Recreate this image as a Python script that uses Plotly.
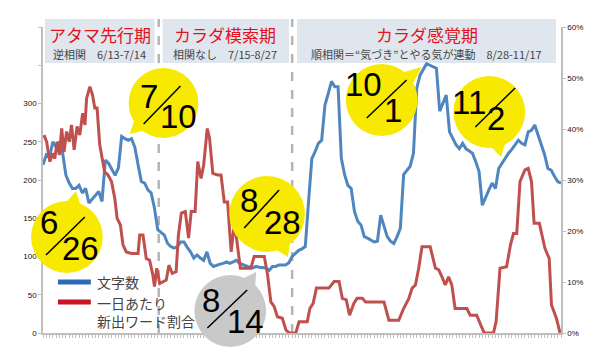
import math
import plotly.graph_objects as go

# ---------------- data ----------------
# day offset from 6/13 (0) to 11/17 (158)
blue_day = list(range(0, 159))
blue_chars = [220, 233, 230, 250, 243, 250, 235, 206, 196, 189, 189, 193, 183, 189, 170, 175, 180, 185, 172, 226,
              222, 213, 206, 216, 257, 254, 252, 254, 243, 220, 198, 196, 187, 183, 163, 135, 132, 128, 117, 113,
              111, 113, 119, 119, 112, 106, 98, 102, 98, 95, 106, 91, 87, 89, 90, 91, 93, 91, 93, 95,
              91, 89, 87, 86, 85, 87, 86, 85, 85, 82, 87, 87, 89, 89, 89, 92, 100, 104, 108, 110,
              113, 172, 228, 237, 248, 252, 298, 313, 329, 322, 322, 228, 207, 193, 189, 159, 146, 141, 126, 124,
              122, 119, 120, 154, 140, 126, 120, 117, 126, 137, 207, 213, 218, 235, 320, 337, 345, 352, 350, 348,
              346, 290, 300, 311, 263, 255, 246, 241, 248, 241, 238, 235, 224, 211, 167, 178, 187, 196, 189, 215,
              222, 228, 235, 240, 246, 252, 248, 246, 263, 265, 272, 259, 245, 233, 215, 213, 205, 198, 196]

red_day = [0.3, 1.1, 2.1, 2.9, 3.6, 4.3, 5.0, 5.7, 6.4, 7.2, 8.0, 8.7, 9.5, 10.4, 11.2, 12.1, 12.8, 13.3, 14.3, 15.1,
           15.8, 16.5, 17.3, 18.1, 18.8, 19.8, 20.9, 21.9, 22.6, 23.6, 24.4, 25.4, 27.0, 29.0, 29.5, 30.5, 31.5, 32.5,
           33.5, 34.0, 34.7, 35.6, 36.6, 37.6, 38.4, 39.4, 40.6, 41.3, 42.2, 43.4, 44.4, 45.2, 46.4, 47.2, 48.2, 49.0,
           50.1, 50.8, 51.8, 53.3, 54.3, 55.3, 56.3, 57.4, 58.4, 59.4, 60.2, 63.4, 64.4, 67.5, 68.5, 69.5, 70.5, 71.5,
           73.0, 74.1, 75.1, 77.1, 78.1, 80.6, 81.4, 82.4, 83.4, 87.2, 88.8, 90.3, 91.3, 92.5, 93.5, 94.8, 95.8, 97.4,
           98.4, 104.0, 105.5, 108.5, 110.0, 111.6, 112.6, 113.6, 114.6, 115.6, 118.1, 119.7, 120.7, 121.7, 122.7,
           123.7, 124.7, 125.7, 129.3, 130.3, 132.3, 133.5, 134.6, 137.4, 138.2, 139.4, 141.4, 142.6, 143.5, 144.5,
           145.5, 147.0, 148.0, 149.0, 149.8, 151.4, 153.1, 154.4, 155.1, 156.6, 157.7]
red_pct = [38.8, 37.5, 33.6, 35.2, 34.2, 37.5, 34.9, 40.1, 35.5, 39.5, 37.5, 40.8, 35.9, 40.5, 38.8, 43.1, 40.8, 46.0,
           48.3, 46.7, 44.1, 44.1, 36.9, 33.6, 31.6, 31.0, 29.7, 26.4, 22.5, 21.2, 17.3, 15.9, 15.6, 15.6, 19.2, 19.2,
           14.6, 14.3, 11.4, 9.1, 12.7, 9.7, 10.1, 10.4, 13.3, 11.7, 12.0, 19.2, 23.5, 23.8, 18.6, 23.8, 23.8, 33.6,
           30.3, 32.9, 40.1, 38.2, 31.3, 31.0, 31.0, 25.7, 25.7, 15.9, 21.8, 16.6, 12.7, 12.7, 15.0, 15.0, 11.4, 6.1,
           5.2, 3.2, 2.9, 0.6, 0.0, 0.0, 2.2, 2.2, 4.8, 5.8, 8.8, 8.8, 10.1, 10.1, 6.8, 6.5, 3.5, 5.8, 6.8, 6.8,
           6.1, 6.1, 2.5, 2.5, 4.8, 6.8, 8.8, 9.4, 12.7, 16.9, 16.9, 12.7, 12.4, 11.0, 9.4, 11.0, 9.4, 4.8, 4.8,
           3.5, 3.5, 1.6, 0.0, 0.0, 2.2, 12.7, 13.0, 17.3, 19.5, 19.5, 29.7, 32.0, 32.3, 29.7, 21.5, 21.5, 16.6,
           14.6, 5.5, 2.9, 0.0]

left_ticks = [0, 50, 100, 150, 200, 250, 300, 350, 400]
left_labels = ["0", "50", "100", "150", "200", "250", "300", "", ""]
right_ticks = [0, 10, 20, 30, 40, 50, 60]
right_labels = ["0%", "10%", "20%", "30%", "40%", "50%", "60%"]

phase_bounds = [35.3, 76.0]
phase_titles = ["アタマ先行期", "カラダ模索期", "カラダ感覚期"]
phase_subs = ["逆相関　6/13-7/14", "相関なし　7/15-8/27", "順相関＝“気づき”とやる気が連動　8/28-11/17"]

legend_names = ["文字数", "一日あたり<br>新出ワード割合"]

# callouts: numerator, denominator
callout_num = ["7", "6", "8", "8", "10", "11"]
callout_den = ["10", "26", "28", "14", "1", "2"]

# ---------------- layout helpers (pixel -> paper) ----------------
W, H = 595, 355
L, R, T, B = 43, 563, 27, 333


def px(x):
    return (x - L) / (R - L)


def py(y):
    return (B - y) / (B - T)


BLUE = "#4f86c0"
RED = "#c0504d"
YEL = "#f7e900"
GRAY = "#c9c9c9"
CJK = "Noto Sans CJK JP"
LAT = "Liberation Sans, Arial, sans-serif"

fig = go.Figure()
fig.add_trace(go.Scatter(x=red_day, y=red_pct, mode="lines", yaxis="y2",
                         line=dict(color=RED, width=3), name=legend_names[1]))
fig.add_trace(go.Scatter(x=blue_day, y=blue_chars, mode="lines", yaxis="y",
                         line=dict(color=BLUE, width=3), name=legend_names[0]))

shapes = []
annotations = []

# header boxes
boxes = [(45, 155), (163, 290), (298, 558)]
centers = [100, 226, 428]
for (x0, x1), cx, t, s in zip(boxes, centers, phase_titles, phase_subs):
    shapes.append(dict(type="rect", xref="paper", yref="paper", x0=px(x0), x1=px(x1), y0=py(63), y1=py(19),
                       fillcolor="#dfe6ee", line=dict(width=0), layer="below"))
    annotations.append(dict(xref="paper", yref="paper", x=px(cx), y=py(34), text=t, showarrow=False,
                            xanchor="center", yanchor="middle",
                            font=dict(family=CJK, size=17, color="#e3121c")))
    annotations.append(dict(xref="paper", yref="paper", x=px(cx), y=py(53.5), text=s, showarrow=False,
                            xanchor="center", yanchor="middle",
                            font=dict(family=CJK, size=11, color="#444444")))

# dashed phase separators
for b in phase_bounds:
    shapes.append(dict(type="line", xref="x", yref="paper", x0=b, x1=b, y0=0, y1=py(19),
                       line=dict(color="#b5b5b5", width=2.5, dash="dash"), layer="below"))

# callout bubbles
bubbles = [
    # cx, cy, r, tip, color, num pos, den pos, slash
    (164, 103, 35, (130, 134), YEL, (149, 97), (179, 117), ((144, 124), (181, 86))),
    (67, 237, 36, (76, 191), YEL, (49, 223), (81, 248), ((46, 255), (85, 217))),
    (268, 214, 38, (289, 257), YEL, (250, 200), (283, 222), ((245, 228), (280, 190))),
    (231, 311, 36, (257, 272), GRAY, (212, 300), (246, 321), ((208, 328), (248, 290))),
    (383, 100, 36, (423, 67), YEL, (365, 84), (394, 110), ((368, 118), (408, 80))),
    (491, 112, 36, (503, 157), YEL, (471, 102), (498, 118), ((477, 127), (517, 88))),
]
for (cx, cy, r, tip, col, npos, dpos, sl), num, den in zip(bubbles, callout_num, callout_den):
    ang = math.atan2(tip[1] - cy, tip[0] - cx)
    pts = []
    for da in (-0.28, 0.28):
        pts.append((cx + 0.9 * r * math.cos(ang + da), cy + 0.9 * r * math.sin(ang + da)))
    path = "M {:.4f},{:.4f} L {:.4f},{:.4f} L {:.4f},{:.4f} Z".format(
        px(pts[0][0]), py(pts[0][1]), px(tip[0]), py(tip[1]), px(pts[1][0]), py(pts[1][1]))
    shapes.append(dict(type="path", xref="paper", yref="paper", path=path, fillcolor=col,
                       line=dict(width=0), layer="above"))
    shapes.append(dict(type="circle", xref="paper", yref="paper", x0=px(cx - r), x1=px(cx + r),
                       y0=py(cy + r), y1=py(cy - r), fillcolor=col, line=dict(width=0), layer="above"))
    shapes.append(dict(type="line", xref="paper", yref="paper", x0=px(sl[0][0]), y0=py(sl[0][1]),
                       x1=px(sl[1][0]), y1=py(sl[1][1]), line=dict(color="black", width=1.5), layer="above"))
    annotations.append(dict(xref="paper", yref="paper", x=px(npos[0]), y=py(npos[1]), text=num,
                            showarrow=False, xanchor="center", yanchor="middle",
                            font=dict(family=LAT, size=33, color="black")))
    annotations.append(dict(xref="paper", yref="paper", x=px(dpos[0]), y=py(dpos[1]), text=den,
                            showarrow=False, xanchor="center", yanchor="middle",
                            font=dict(family=LAT, size=33, color="black")))

# custom legend
shapes.append(dict(type="line", xref="paper", yref="paper", x0=px(58), x1=px(91), y0=py(282), y1=py(282),
                   line=dict(color="#2b6cb4", width=5), layer="above"))
shapes.append(dict(type="line", xref="paper", yref="paper", x0=px(58), x1=px(91), y0=py(302), y1=py(302),
                   line=dict(color="#cc1424", width=5), layer="above"))
annotations.append(dict(xref="paper", yref="paper", x=px(95), y=py(282), text=legend_names[0], showarrow=False,
                        xanchor="left", yanchor="middle", font=dict(family=CJK, size=14, color="#444444")))
annotations.append(dict(xref="paper", yref="paper", x=px(95), y=py(312), text=legend_names[1], showarrow=False,
                        xanchor="left", yanchor="middle", align="left",
                        font=dict(family=CJK, size=14, color="#444444")))

fig.update_layout(
    width=W, height=H,
    margin=dict(l=L, r=W - R, t=T, b=H - B, pad=0),
    paper_bgcolor="white", plot_bgcolor="white",
    showlegend=False,
    hovermode=False,
    shapes=shapes,
    annotations=annotations,
    xaxis=dict(range=[0, 158], showgrid=False, zeroline=False, showline=True, linecolor="#bfbfbf",
               linewidth=1.5, ticks="outside", ticklen=3, tickcolor="#bfbfbf", dtick=1, tick0=0,
               showticklabels=False),
    yaxis=dict(range=[0, 400], tickvals=left_ticks, ticktext=left_labels, showgrid=False, zeroline=False,
               showline=True, linecolor="#bfbfbf", linewidth=1.5, ticks="outside", ticklen=3,
               tickcolor="#bfbfbf", tickfont=dict(family=LAT, size=8, color="#111111")),
    yaxis2=dict(range=[0, 60], overlaying="y", side="right", tickvals=right_ticks, ticktext=right_labels,
                showgrid=False, zeroline=False, showline=True, linecolor="#bfbfbf", linewidth=1.5,
                ticks="outside", ticklen=3, tickcolor="#bfbfbf",
                tickfont=dict(family=LAT, size=8, color="#111111")),
)

fig.write_html("out.html", config={"displayModeBar": False},
               post_script="document.body.style.margin='0';document.body.style.overflow='hidden';")
